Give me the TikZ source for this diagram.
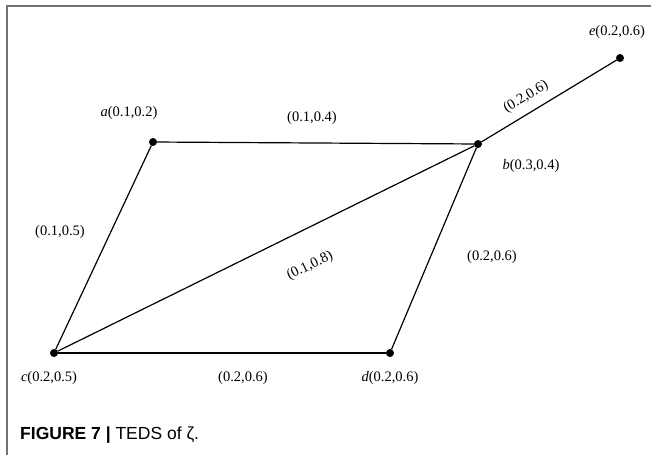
\documentclass[tikz,border=0pt]{standalone}
\usepackage{fontspec}
\setmainfont{Liberation Serif}
\newfontfamily\capfont{Liberation Sans}
\usepackage{tikz}
\tikzset{
  teds vertex/.style={circle, draw, fill=black, inner sep=0pt, minimum size=7.5pt},
  teds edge/.style={line width=1.2pt},
  teds label/.style={inner sep=0pt, font=\fontsize{14.5}{16}\selectfont},
  frame line/.style={draw=black!55, line width=1.5pt}
}

\begin{document}
\begin{tikzpicture}[x=1pt, y=-1pt]
      \useasboundingbox (0,0) rectangle (651,455);
      \coordinate (fbot) at (7,455);
      \coordinate (fcorner) at (7,6);
      \coordinate (fright) at (651,6);
      \draw[frame line] (fbot) -- (fcorner) -- (fright);
      \node[teds vertex] (a) at (153,142) {};
      \node[teds vertex] (b) at (478,144) {};
      \node[teds vertex] (c) at (54,353) {};
      \node[teds vertex] (d) at (390,353) {};
      \node[teds vertex] (e) at (620,58) {};
      \draw[teds edge] (a) -- (b);
      \draw[teds edge] (a) -- (c);
      \draw[teds edge] (c) -- (b);
      \draw[teds edge] (c) -- (d);
      \draw[teds edge] (d) -- (b);
      \draw[teds edge] (b) -- (e);
      \node[teds label] (la) at (129,113) {\textit{a}(0.1,0.2)};
      \node[teds label] (lb) at (531,166) {\textit{b}(0.3,0.4)};
      \node[teds label] (lc) at (49,378) {\textit{c}(0.2,0.5)};
      \node[teds label] (ld) at (390,378) {\textit{d}(0.2,0.6)};
      \node[teds label] (le) at (617,32) {\textit{e}(0.2,0.6)};
      \node[teds label] (lab) at (312,118) {(0.1,0.4)};
      \node[teds label] (lac) at (60,232) {(0.1,0.5)};
      \node[teds label, rotate=26] (lcb) at (310,266) {(0.1,0.8)};
      \node[teds label] (lbd) at (492,257) {(0.2,0.6)};
      \node[teds label] (lcd) at (243,378) {(0.2,0.6)};
      \node[teds label, rotate=31] (lbe) at (526,97) {(0.2,0.6)};
      \node[anchor=west, inner sep=0pt, font=\capfont\fontsize{17.5}{20}\selectfont] (cap) at (20,435)
        {\textbf{FIGURE 7 |} TEDS of ζ.};
    \end{tikzpicture}
\end{document}
